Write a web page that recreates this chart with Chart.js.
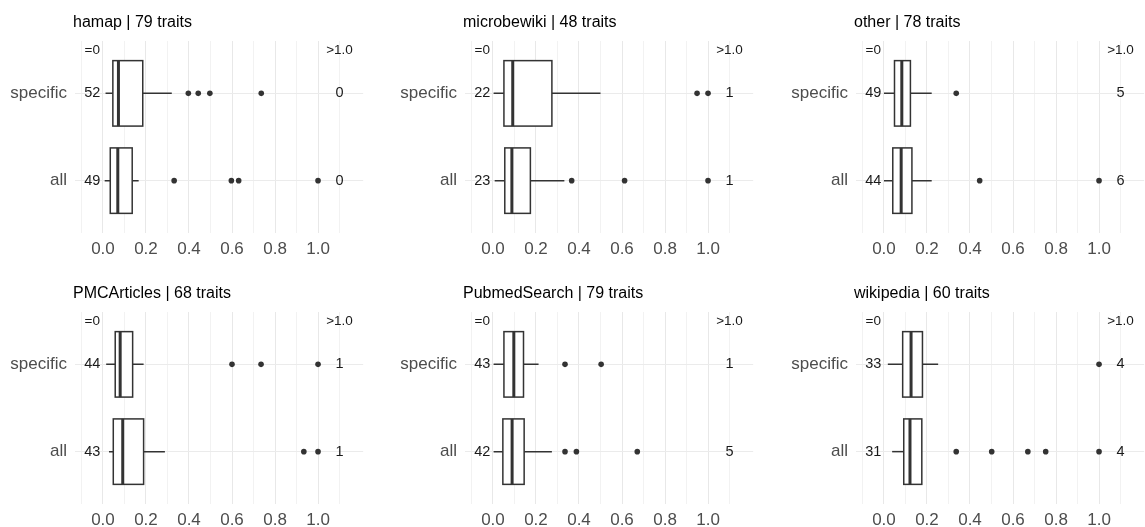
<!DOCTYPE html>
<html>
<head>
<meta charset="utf-8">
<title>Trait boxplots by source</title>
<script src="https://cdn.jsdelivr.net/npm/chart.js@4/dist/chart.umd.min.js"></script>
<style>
    body { margin: 0; background: #fff; overflow: hidden; }
    #wrap { position: relative; width: 1145px; height: 527px; overflow: hidden; }
    #wrap canvas { position: absolute; }
</style>
</head>
<body>
<div id="wrap"></div>
<script>
// Panels (facets)
const sources = ['hamap', 'microbewiki', 'other', 'PMCArticles', 'PubmedSearch', 'wikipedia'];
const traitCounts = [79, 48, 78, 68, 79, 60];
const groups = ['all', 'specific'];

// x axis
const xTickValues = [0, 0.2, 0.4, 0.6, 0.8, 1.0];
const xTickLabels = ['0.0', '0.2', '0.4', '0.6', '0.8', '1.0'];
const xGridValues = [-0.1, 0, 0.1, 0.2, 0.3, 0.4, 0.5, 0.6, 0.7, 0.8, 0.9, 1.0, 1.1];

// "specific" group, one value per source
const specLow = [0.012, 0.003, 0.0, 0.015, 0.003, 0.018];
const specQ1 = [0.046, 0.051, 0.049, 0.057, 0.051, 0.087];
const specMedian = [0.072, 0.092, 0.083, 0.080, 0.097, 0.126];
const specQ3 = [0.185, 0.274, 0.123, 0.138, 0.142, 0.179];
const specHigh = [0.320, 0.500, 0.222, 0.189, 0.212, 0.252];
const specOutliers = [
    [0.397, 0.443, 0.497, 0.736],
    [0.949, 1.0],
    [0.336],
    [0.600, 0.735, 1.0],
    [0.335, 0.503],
    [1.0]
];
const specZero = [52, 22, 49, 44, 43, 33];
const specOver = [0, 1, 5, 1, 1, 4];

// "all" group
const allLow = [0.008, 0.008, 0.0, 0.028, 0.003, 0.038];
const allQ1 = [0.034, 0.055, 0.041, 0.048, 0.046, 0.092];
const allMedian = [0.069, 0.088, 0.080, 0.092, 0.089, 0.121];
const allQ3 = [0.136, 0.174, 0.130, 0.189, 0.145, 0.176];
const allHigh = [0.166, 0.332, 0.222, 0.288, 0.274, 0.176];
const allOutliers = [
    [0.331, 0.597, 0.631, 1.0],
    [0.366, 0.612, 1.0],
    [0.445, 1.0],
    [0.934, 1.0],
    [0.335, 0.388, 0.671],
    [0.336, 0.501, 0.669, 0.752, 1.0]
];
const allZero = [49, 23, 44, 43, 42, 31];
const allOver = [0, 1, 6, 1, 5, 4];

Chart.defaults.font.family = '"Liberation Sans", Arial, Helvetica, sans-serif';

const INK = '#333333';

// draws whiskers, boxes, medians, the count labels and the panel title
const boxPlugin = {
    id: 'boxPlot',
    beforeDatasetsDraw(chart, args, opts) {
        const xs = chart.scales.x, ys = chart.scales.y;
        const c = chart.ctx;
        c.save();
        opts.stats.forEach(s => {
            const yMid = ys.getPixelForValue(s.y);
            const yTop = ys.getPixelForValue(s.y + 0.375);
            const yBot = ys.getPixelForValue(s.y - 0.375);
            const p = v => xs.getPixelForValue(v);
            c.strokeStyle = INK;
            c.lineWidth = 1.5;
            c.beginPath();
            c.moveTo(p(s.low), yMid); c.lineTo(p(s.q1), yMid);
            c.moveTo(p(s.q3), yMid); c.lineTo(p(s.high), yMid);
            c.stroke();
            c.fillStyle = '#ffffff';
            c.fillRect(p(s.q1), yTop, p(s.q3) - p(s.q1), yBot - yTop);
            c.strokeRect(p(s.q1), yTop, p(s.q3) - p(s.q1), yBot - yTop);
            c.lineWidth = 3;
            c.beginPath();
            c.moveTo(p(s.med), yTop); c.lineTo(p(s.med), yBot);
            c.stroke();
        });
        c.restore();
    },
    afterDraw(chart, args, opts) {
        const xs = chart.scales.x, ys = chart.scales.y;
        const c = chart.ctx;
        c.save();
        c.textAlign = 'center';
        c.textBaseline = 'middle';
        c.fillStyle = '#1a1a1a';
        c.font = '13.5px ' + Chart.defaults.font.family;
        c.fillText('=0', xs.getPixelForValue(-0.05), ys.getPixelForValue(2.49));
        c.fillText('>1.0', xs.getPixelForValue(1.1), ys.getPixelForValue(2.49));
        c.font = '14.5px ' + Chart.defaults.font.family;
        opts.stats.forEach(s => {
            const yMid = ys.getPixelForValue(s.y);
            c.fillText(String(s.zero), xs.getPixelForValue(-0.05), yMid);
            c.fillText(String(s.over), xs.getPixelForValue(1.1), yMid);
        });
        c.textAlign = 'left';
        c.fillStyle = '#000000';
        c.font = '16px ' + Chart.defaults.font.family;
        c.fillText(opts.title, chart.chartArea.left - 2, 23);
        c.restore();
    }
};

document.addEventListener('DOMContentLoaded', () => {
    const wrap = document.getElementById('wrap');
    const colLeft = [0, 390, 781];
    const rowTop = [0, 271];

    sources.forEach((src, i) => {
        const canvas = document.createElement('canvas');
        canvas.width = 366;
        canvas.height = 264;
        canvas.style.left = colLeft[i % 3] + 'px';
        canvas.style.top = rowTop[Math.floor(i / 3)] + 'px';
        wrap.appendChild(canvas);

        const stats = [
            { y: 2, low: specLow[i], q1: specQ1[i], med: specMedian[i], q3: specQ3[i], high: specHigh[i], zero: specZero[i], over: specOver[i] },
            { y: 1, low: allLow[i], q1: allQ1[i], med: allMedian[i], q3: allQ3[i], high: allHigh[i], zero: allZero[i], over: allOver[i] }
        ];
        const points = specOutliers[i].map(x => ({ x, y: 2 }))
            .concat(allOutliers[i].map(x => ({ x, y: 1 })));

        new Chart(canvas, {
            type: 'scatter',
            data: {
                datasets: [{
                    label: 'outliers',
                    data: points,
                    pointRadius: 2.8,
                    pointHoverRadius: 2.8,
                    backgroundColor: INK,
                    borderWidth: 0
                }]
            },
            options: {
                responsive: false,
                animation: false,
                events: [],
                layout: { padding: { top: 41, left: 0, right: 0, bottom: 0 } },
                plugins: {
                    legend: { display: false },
                    tooltip: { enabled: false },
                    boxPlot: { stats, title: src + ' | ' + traitCounts[i] + ' traits' }
                },
                scales: {
                    x: {
                        type: 'linear',
                        min: -0.13,
                        max: 1.21,
                        afterBuildTicks: s => { s.ticks = xGridValues.map(v => ({ value: v })); },
                        afterFit: s => { s.height = 31; },
                        border: { display: false },
                        grid: {
                            drawTicks: false,
                            lineWidth: 1,
                            color: ctx => {
                                const v = ctx.tick ? ctx.tick.value : 0;
                                return xTickValues.some(t => Math.abs(t - v) < 1e-9) ? '#e8e8e8' : '#f2f2f2';
                            }
                        },
                        ticks: {
                            autoSkip: false,
                            maxRotation: 0,
                            padding: 6,
                            color: '#4d4d4d',
                            font: { size: 17 },
                            callback: v => {
                                const k = xTickValues.findIndex(t => Math.abs(t - v) < 1e-9);
                                return k >= 0 ? xTickLabels[k] : '';
                            }
                        }
                    },
                    y: {
                        type: 'linear',
                        min: 0.4,
                        max: 2.6,
                        afterBuildTicks: s => { s.ticks = [{ value: 1 }, { value: 2 }]; },
                        afterFit: s => { s.width = 75; },
                        border: { display: false },
                        grid: { drawTicks: false, color: '#ebebeb', lineWidth: 1 },
                        ticks: {
                            padding: 8,
                            color: '#4d4d4d',
                            font: { size: 17 },
                            callback: v => groups[v - 1]
                        }
                    }
                }
            },
            plugins: [boxPlugin]
        });
    });
});
</script>
</body>
</html>
